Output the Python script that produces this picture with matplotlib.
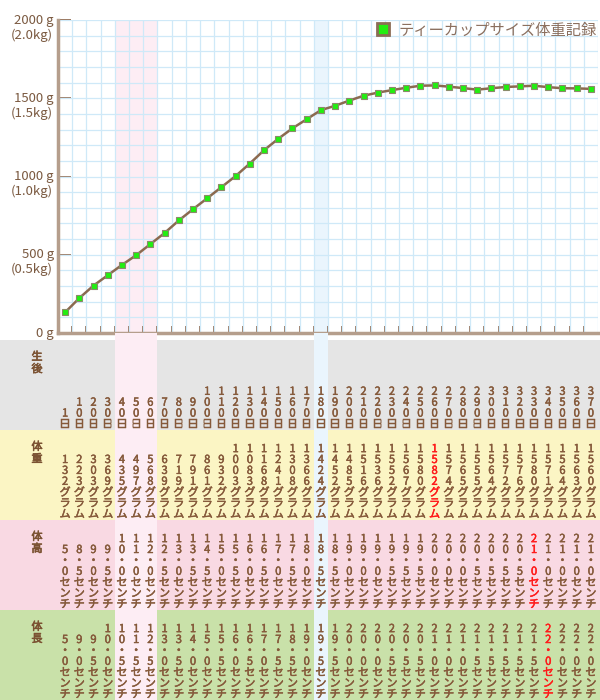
import numpy as np
import matplotlib
matplotlib.use('Agg')
import matplotlib.pyplot as plt
import matplotlib.patheffects as pe
from matplotlib.lines import Line2D

plt.rcParams['font.family'] = ['Noto Sans CJK JP', 'DejaVu Sans']

# ---------------- data ----------------
days = [1, 10, 20, 30, 40, 50, 60, 70, 80, 90, 100, 110, 120, 130, 140, 150, 160,
        170, 180, 190, 200, 210, 220, 230, 240, 250, 260, 270, 280, 290, 300,
        310, 320, 330, 340, 350, 360, 370]
weights = [132, 223, 303, 369, 435, 497, 568, 639, 719, 791, 861, 932, 1003, 1083,
           1168, 1241, 1308, 1366, 1424, 1452, 1485, 1516, 1536, 1552, 1567, 1580,
           1582, 1574, 1565, 1555, 1564, 1572, 1576, 1580, 1571, 1564, 1563, 1560]
heights = [5.0, 8.5, 9.0, 9.5, 10.0, 11.0, 12.0, 12.5, 13.0, 13.5, 14.5, 15.0, 15.5,
           16.0, 16.5, 17.0, 17.5, 18.0, 18.5, 18.5, 19.0, 19.0, 19.0, 19.5, 19.5,
           19.5, 20.0, 20.0, 20.0, 20.5, 20.5, 20.5, 20.5, 21.0, 21.0, 21.0, 21.0, 21.0]
lengths = [5.0, 9.0, 9.5, 10.0, 10.5, 11.5, 12.5, 13.0, 13.5, 14.0, 15.0, 15.5, 16.0,
           16.5, 17.0, 17.5, 18.5, 19.0, 19.5, 19.5, 20.0, 20.0, 20.0, 20.5, 20.5,
           20.5, 21.0, 21.0, 21.0, 21.5, 21.5, 21.5, 21.5, 21.5, 22.0, 22.0, 22.0, 22.0]
row_titles = ['生後', '体重', '体高', '体長']
legend_label = 'ティーカップサイズ体重記録'
ytick_values = [0, 500, 1000, 1500, 2000]
pink_band_days = (40, 60)
blue_band_days = (180, 180)

# ---------------- layout ----------------
W, H, DPI = 600, 700, 100
fig = plt.figure(figsize=(W / DPI, H / DPI), dpi=DPI)
fig.patch.set_facecolor('white')

n = len(days)
x = np.arange(n)
AX_L, AX_R, AX_T, AX_B = 58, 598, 20, 333
unit = (AX_R - AX_L) / n

ax = fig.add_axes([AX_L / W, 1 - AX_B / H, (AX_R - AX_L) / W, (AX_B - AX_T) / H])
ax.set_xlim(-0.5, n - 0.5)
ax.set_ylim(0, 2000)
ax.set_facecolor('white')

pink = '#fdedf4'
blue = '#eaf5fd'
p0, p1 = days.index(pink_band_days[0]), days.index(pink_band_days[1])
b0, b1 = days.index(blue_band_days[0]), days.index(blue_band_days[1])
ax.axvspan(p0 - 0.5, p1 + 0.5, color=pink, zorder=0, lw=0)
ax.axvspan(b0 - 0.5, b1 + 0.5, color=blue, zorder=0, lw=0)

grid_c = '#cfe9f8'
ax.xaxis.remove_overlapping_locs = False
ax.yaxis.remove_overlapping_locs = False
ax.set_xticks(np.arange(0.5, n - 0.5, 1))
ax.set_xticks(np.arange(-0.5, n + 0.5, 1), minor=True)
ax.set_yticks(ytick_values)
ax.set_yticks(np.arange(0, 2001, 100), minor=True)
ax.grid(which='minor', color=grid_c, lw=0.9, zorder=1)
ax.set_axisbelow(True)
ax.set_xticklabels([])
ax.set_yticklabels([])
brown_axis = '#b59e8c'
tick_c = '#8a6448'
ax.tick_params(axis='x', which='major', direction='in', length=5, width=1.2, color=tick_c)
ax.tick_params(axis='y', which='major', direction='in', length=9.5, width=1.2, color=tick_c)
ax.tick_params(which='minor', length=0)
for s in ['top', 'right']:
    ax.spines[s].set_visible(False)
for s in ['left', 'bottom']:
    ax.spines[s].set_color(brown_axis)
    ax.spines[s].set_linewidth(2.5)
    ax.spines[s].set_zorder(4)

lab_c = '#7b5a41'
ytr = ax.get_yaxis_transform()
for v in ytick_values:
    ax.text(-0.008, v, f'{v} g', transform=ytr, ha='right', va='center',
            fontsize=9.5, color=lab_c, clip_on=False)
    if v > 0:
        ax.text(-0.01, v - 2000 * 15 / (AX_B - AX_T), f'({v / 1000:.1f}kg)',
                transform=ytr, ha='right', va='center', fontsize=9.5,
                color=lab_c, clip_on=False)

ax.plot(x, weights, color='#8b6a50', lw=1.8, zorder=3,
        marker='s', ms=5, mfc='#22ee11', mec='#8a8a6a', mew=0.8, clip_on=False)

handle = Line2D([], [], marker='s', ls='none', mfc='#22ee11', mec='#8b6d55',
                mew=2, ms=8.5)
ax.legend([handle], [legend_label], loc='upper right', frameon=False,
          fontsize=11, labelcolor='#8b6f5e', handletextpad=0.5,
          borderaxespad=0.05, borderpad=0.05, handlelength=1.0)

# ---------------- table ----------------
tab = fig.add_axes([0, 0, 1, 1 - AX_B / H])
tab.set_xlim(-0.5 - AX_L / unit, n - 0.5 + (W - AX_R) / unit)
tab.set_ylim(H, AX_B)
tab.axis('off')


def tabx(px):
    return -0.5 - AX_L / unit + px / unit


row_tops = [340, 430, 520, 610]
row_h = 90
row_colors = ['#e5e5e5', '#fbf5c4', '#f9d9e3', '#c9e1a9']
for top, c in zip(row_tops, row_colors):
    tab.axhspan(top, top + row_h, color=c, zorder=0, lw=0)
tab.axvspan(p0 - 0.5, p1 + 0.5, color=pink, zorder=1, lw=0)
tab.axvspan(b0 - 0.5, b1 + 0.5, color=blue, zorder=1, lw=0)

title_c = '#7b5232'
for top, t in zip(row_tops, row_titles):
    for k, ch in enumerate(t):
        tab.text(tabx(37), top + 17 + k * 12, ch, ha='center', va='center',
                 fontsize=8, color=title_c, zorder=3,
                 path_effects=[pe.withStroke(linewidth=0.45, foreground=title_c)])

txt_c = '#85593a'
pitch = 10.9


def column_strings(values, fmt, unit_s):
    return [format(v, fmt).replace('.', '・') + unit_s for v in values]


row_strings = [
    [f'{d}日' for d in days],
    column_strings(weights, 'd', 'グラム'),
    column_strings(heights, '.1f', 'センチ'),
    column_strings(lengths, '.1f', 'センチ'),
]
highlight = [None, int(np.argmax(weights)), int(np.argmax(heights)), int(np.argmax(lengths))]

for top, strs, hl in zip(row_tops, row_strings, highlight):
    bottom = top + row_h - 5.5
    for i, s in enumerate(strs):
        col = '#ff1a1a' if hl is not None and i == hl else txt_c
        L = len(s)
        for k, ch in enumerate(s):
            tab.text(i, bottom - (L - 1 - k) * pitch, ch, ha='center', va='center',
                     fontsize=8, color=col, zorder=3,
                     path_effects=[pe.withStroke(linewidth=0.35, foreground=col)])

fig.savefig('out.png', dpi=DPI)
